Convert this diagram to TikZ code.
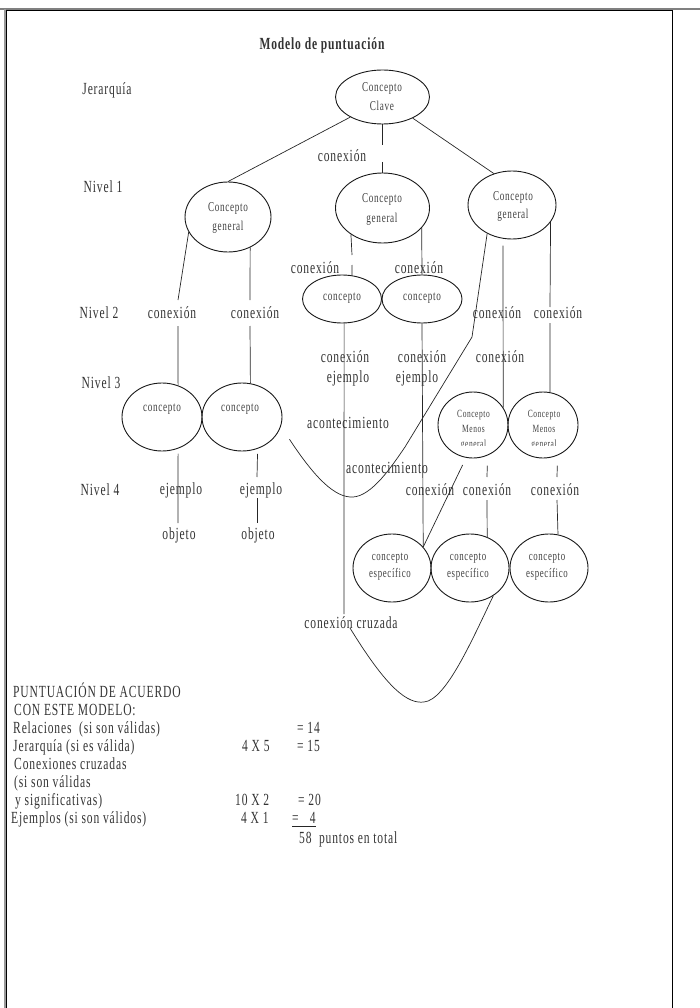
\documentclass[tikz,border=0pt]{standalone}
\usepackage{fontspec}
\setmainfont[FakeStretch=0.68,LetterSpace=5]{Liberation Serif}
\usetikzlibrary{shapes.geometric}
\begin{document}
\begin{tikzpicture}[x=1pt,y=-1pt,
  ell/.style={draw=black!90, ellipse, inner sep=0pt, line width=0.9pt},
  lbl/.style={inner sep=0pt, text=black!80, font=\fontsize{17}{19}\selectfont},
  sml/.style={inner sep=0pt, text=black!75, font=\fontsize{13.5}{15}\selectfont},
  tny/.style={inner sep=0pt, text=black!75, font=\fontsize{11}{13}\selectfont},
  spc/.style={inner sep=0pt, text=black!75, font=\fontsize{13}{15}\selectfont},
  scr/.style={inner sep=0pt, text=black!80, font=\fontsize{17}{19}\selectfont, anchor=base west},
  ln/.style={draw=black!85, line width=0.7pt}]
\useasboundingbox (0,0) rectangle (700,1008);
% frame
\draw[gray, line width=1.5pt] (0,8.8) -- (700,8.8);
\draw[gray!80, line width=1.2pt] (5,9) -- (5,1008);
\draw[black, line width=1.1pt] (6.8,1008) -- (6.8,10.8) -- (672.5,10.8) -- (672.5,1008);

% title and level labels
\node[lbl, font=\fontsize{17}{19}\selectfont\bfseries] (title) at (322,45) {Modelo de puntuación};
\node[lbl] (jer) at (107,90) {Jerarquía};
\node[lbl] (n1) at (103,187) {Nivel 1};
\node[lbl] (n2) at (99,313) {Nivel 2};
\node[lbl] (n3) at (101,383) {Nivel 3};
\node[lbl] (n4) at (100,490) {Nivel 4};

% ellipses
\node[ell, minimum width=94pt, minimum height=54pt] (clave) at (382.5,97) {};
\node[ell, minimum width=86pt, minimum height=70pt] (g1) at (228,217) {};
\node[ell, minimum width=94pt, minimum height=70pt] (g2) at (382.5,208) {};
\node[ell, minimum width=88pt, minimum height=68pt] (g3) at (512,205) {};
\node[ell, minimum width=79pt, minimum height=48pt] (c2a) at (342,299) {};
\node[ell, minimum width=80pt, minimum height=48pt] (c2b) at (422,299) {};
\node[ell, minimum width=80pt, minimum height=68pt] (c3a) at (162,417) {};
\node[ell, minimum width=80pt, minimum height=68pt] (c3b) at (242,417) {};
\node[ell, minimum width=70pt, minimum height=66pt] (m1) at (473,425) {};
\node[ell, minimum width=70pt, minimum height=66pt] (m2) at (543,425) {};
\node[ell, minimum width=78pt, minimum height=68pt] (e1) at (392,568) {};
\node[ell, minimum width=78pt, minimum height=68pt] (e2) at (470,568) {};
\node[ell, minimum width=78pt, minimum height=68pt] (e3) at (549,568) {};

% texts in ellipses
\node[sml] (clave1) at (382,88) {Concepto};
\node[sml] (clave2) at (382,106) {Clave};
\node[sml] (g1a) at (228,208) {Concepto};
\node[sml] (g1b) at (228,227) {general};
\node[sml] (g2a) at (382,199) {Concepto};
\node[sml] (g2b) at (382,219) {general};
\node[sml] (g3a) at (513,197) {Concepto};
\node[sml] (g3b) at (513,215) {general};
\node[sml] (c2at) at (342,298) {concepto};
\node[sml] (c2bt) at (422,298) {concepto};
\node[sml] (c3at) at (162,409) {concepto};
\node[sml] (c3bt) at (240,409) {concepto};
\begin{scope}
\clip (430,380) rectangle (590,445);
\node[tny] (m1a) at (473.5,415) {Concepto};
\node[tny] (m1b) at (473.5,429) {Menos};
\node[tny] (m1c) at (473.5,445) {general};
\node[tny] (m2a) at (544,415) {Concepto};
\node[tny] (m2b) at (544,429) {Menos};
\node[tny] (m2c) at (544,445) {general};
\end{scope}
\node[spc] (e1a) at (390,558) {concepto};
\node[spc] (e1b) at (390,574) {específico};
\node[spc] (e2a) at (468,558) {concepto};
\node[spc] (e2b) at (468,574) {específico};
\node[spc] (e3a) at (547,558) {concepto};
\node[spc] (e3b) at (547,574) {específico};

% connector labels
\node[lbl] (k0) at (342,156) {conexión};
\node[lbl] (l1) at (172,313) {conexión};
\node[lbl] (l2) at (255,313) {conexión};
\node[lbl] (l3) at (315,268) {conexión};
\node[lbl] (l4) at (419,268) {conexión};
\node[lbl] (l5) at (497,313) {conexión};
\node[lbl] (l6) at (558,313) {conexión};
\node[lbl] (l7) at (345,357) {conexión};
\node[lbl] (l8) at (348,378) {ejemplo};
\node[lbl] (l9) at (422,357) {conexión};
\node[lbl] (l10) at (417,378) {ejemplo};
\node[lbl] (l11) at (500,357) {conexión};
\node[lbl] (l12) at (348,423) {acontecimiento};
\node[lbl] (l13) at (387,468) {acontecimiento};
\node[lbl] (l14) at (181,490) {ejemplo};
\node[lbl] (l15) at (261,490) {ejemplo};
\node[lbl] (l16) at (179,535) {objeto};
\node[lbl] (l17) at (258,535) {objeto};
\node[lbl] (l18) at (430,490) {conexión};
\node[lbl] (l19) at (487,490) {conexión};
\node[lbl] (l20) at (555,490) {conexión};
\node[lbl] (l21) at (351,623) {conexión cruzada};

% connectors
\coordinate (k1) at (382.5,145); \coordinate (k2) at (382.5,162);
\draw[ln] (clave.212) -- (g1.north);
\draw[ln] (clave.325) -- (g3.120);
\draw[ln] (clave.south) -- (k1);
\draw[ln] (k2) -- (g2.north);

\coordinate (a1) at (178,300); \coordinate (a2) at (178,326);
\draw[ln] (g1.201) -- (a1);
\draw[ln] (a2) -- (c3a.63);
\coordinate (a3) at (250,300); \coordinate (a4) at (250,326);
\draw[ln] (g1.306) -- (a3);
\draw[ln] (a4) -- (c3b.76);

\coordinate (b1) at (352,255); \coordinate (b2) at (352,265);
\draw[ln] (g2.220) -- (b1);
\draw[ln] (b2) -- (c2a.67);
\draw[ln] (g2.333) -- (c2b.north);

\draw[ln] ([yshift=-7pt]g3.255) -- (m1.30);
\coordinate (d1) at (550,307); \coordinate (d2) at (550,323);
\draw[ln] (g3.336) -- (d1);
\draw[ln] (d2) -- (m2.78);

\draw[ln] ([shift={(14pt,-3pt)}]c3b.330) .. controls (315,478) and (335,498) .. (353,497)
  .. controls (372,496) and (392,466) .. (405,447) -- (472,337) -- (g3.229);

\coordinate (x1) at (344,614); \coordinate (x2) at (350,628);
\draw[ln] (c2a.275) -- (x1);
\draw[ln] (x2) .. controls (388,690) and (408,704) .. (424,702) .. controls (446,700) and (472,640) .. (e2.310);

\draw[ln] (c2b.south) -- (e1.34);
\draw[ln] ([yshift=-8pt]m1.252) -- (e1.34);
\coordinate (f1) at (487,477); \coordinate (f2) at (487,500);
\draw[ln] ([yshift=-10pt]m1.295) -- (f1);
\draw[ln] (f2) -- (e2.61);
\coordinate (h1) at (557,477); \coordinate (h2) at (557,500);
\draw[ln] ([yshift=-10pt]m2.295) -- (h1);
\draw[ln] (h2) -- (e3.75);

\coordinate (o1) at (178,523);
\draw[ln] ([yshift=-5pt]c3a.297) -- (o1);
\coordinate (o2) at (257,477); \coordinate (o3) at (257,498); \coordinate (o4) at (257,523);
\draw[ln] ([yshift=-5pt]c3b.296) -- (o2);
\draw[ln] (o3) -- (o4);

% scoring
\node[scr] (s1) at (13,697) {PUNTUACIÓN DE ACUERDO};
\node[scr] (s2) at (14,715) {CON ESTE MODELO:};
\node[scr] (s3) at (13,733) {Relaciones\ \ (si son válidas)};
\node[scr] (s3b) at (297,733) {=\ 14};
\node[scr] (s4) at (13,751) {Jerarquía (si es válida)};
\node[scr] (s4a) at (242,751) {4 X 5};
\node[scr] (s4b) at (297,751) {=\ 15};
\node[scr] (s5) at (14,769) {Conexiones cruzadas};
\node[scr] (s6) at (14,787) {(si son válidas};
\node[scr] (s7) at (15,805) {y significativas)};
\node[scr] (s7a) at (235,805) {10 X 2};
\node[scr] (s7b) at (298,805) {=\ 20};
\node[scr] (s8) at (11,823) {Ejemplos (si son válidos)};
\node[scr] (s8a) at (241,823) {4 X 1};
\node[scr] (s8b) at (292,823) {=\ \ \ 4};
\coordinate (u1) at (292,826.5); \coordinate (u2) at (316,826.5);
\draw[black!85, line width=0.8pt] (u1) -- (u2);
\node[scr] (s9) at (299,843) {58\ \ puntos en total};
\end{tikzpicture}
\end{document}
